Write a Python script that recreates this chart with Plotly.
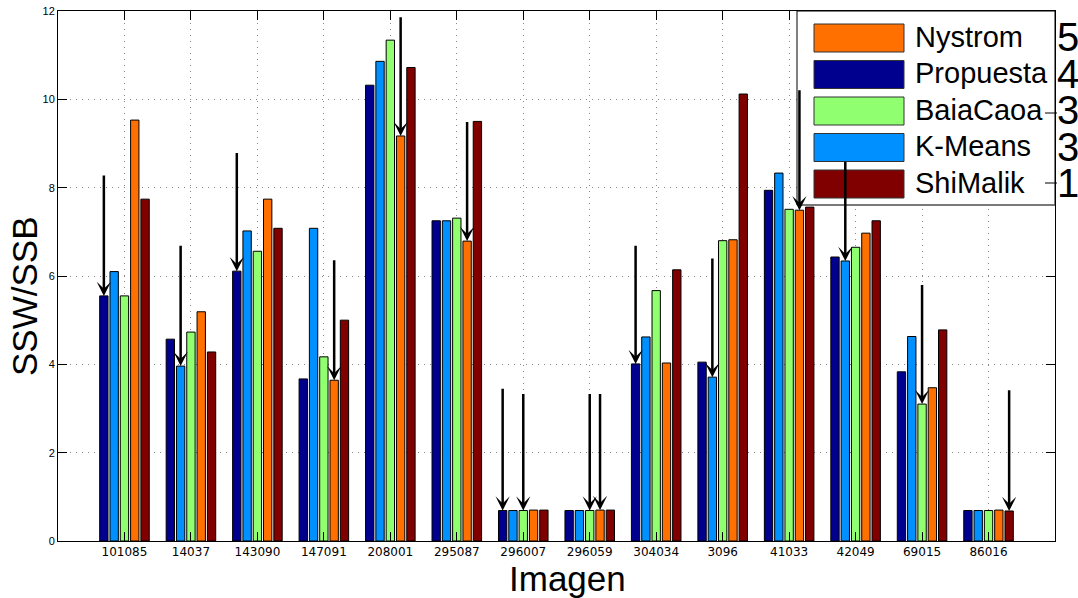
import plotly.graph_objects as go

# ---------------- data ----------------
images = ["101085", "14037", "143090", "147091", "208001", "295087", "296007",
          "296059", "304034", "3096", "41033", "42049", "69015", "86016"]

series_names = ["Propuesta", "K-Means", "BaiaCaoa", "Nystrom", "ShiMalik"]
series_colors = ["#00008F", "#0090FF", "#90FF70", "#FF7000", "#800000"]

propuesta = [5.55, 4.57, 6.11, 3.67, 10.32, 7.25, 0.69, 0.69, 4.01, 4.05, 7.94, 6.43, 3.83, 0.69]
kmeans    = [6.10, 3.96, 7.02, 7.08, 10.86, 7.25, 0.69, 0.69, 4.62, 3.71, 8.33, 6.34, 4.63, 0.69]
baiacaoa  = [5.55, 4.73, 6.56, 4.17, 11.34, 7.31, 0.69, 0.69, 5.67, 6.80, 7.51, 6.65, 3.10, 0.69]
nystrom   = [9.53, 5.19, 7.74, 3.64, 9.17, 6.79, 0.70, 0.70, 4.03, 6.82, 7.49, 6.97, 3.47, 0.70]
shimalik  = [7.74, 4.28, 7.08, 5.00, 10.72, 9.50, 0.70, 0.70, 6.14, 10.12, 7.56, 7.25, 4.78, 0.68]

series_values = [propuesta, kmeans, baiacaoa, nystrom, shimalik]

# arrows marking the best method: (image index, series index, tail height)
arrow_image = [0, 1, 2, 3, 4, 5, 6, 6, 7, 7, 8, 9, 10, 11, 12, 13]
arrow_series = [0, 1, 0, 3, 3, 3, 0, 2, 2, 3, 0, 1, 3, 1, 2, 4]
arrow_tail = [8.31, 6.72, 8.82, 6.39, 11.89, 9.52, 3.48, 3.36, 3.36, 3.36,
              6.72, 6.43, 10.24, 8.62, 5.83, 3.45]

# legend (order as in reference) and win counts
legend_order = ["Nystrom", "Propuesta", "BaiaCaoa", "K-Means", "ShiMalik"]
win_counts = ["5", "4", "3", "3", "1"]

y_ticks = [0, 2, 4, 6, 8, 10, 12]

# ---------------- layout constants ----------------
W, H = 1078, 598
ML, MR, MT, MB = 58, 23, 11, 57
PW = W - ML - MR
PH = H - MT - MB
BARGAP = 0.225
BARGROUPGAP = 0.19
nser = len(series_names)
slot = (1 - BARGAP) / nser


def px2x(px):
    return (px - ML) / PW


def py2y(py):
    return (H - MB - py) / PH


positions = list(range(1, len(images) + 1))

fig = go.Figure()
for name, color, vals in zip(series_names, series_colors, series_values):
    fig.add_trace(go.Bar(
        x=positions, y=vals, name=name,
        marker=dict(color=color, line=dict(color="black", width=1)),
        showlegend=False, hoverinfo="y"))

annotations = []
for gi, si, tail in zip(arrow_image, arrow_series, arrow_tail):
    xpos = positions[gi] + (si - (nser - 1) / 2) * slot
    tip = series_values[si][gi]
    annotations.append(dict(
        x=xpos, y=tip, ax=xpos, ay=tail, xref="x", yref="y", axref="x", ayref="y",
        text="", showarrow=True, arrowhead=3, arrowsize=0.95, arrowwidth=2.5,
        arrowcolor="black", standoff=0))

shapes = []
# legend box
LX0, LX1, LY0, LY1 = 797, 1055, 11, 205
shapes.append(dict(type="rect", xref="paper", yref="paper",
                   x0=px2x(LX0), x1=px2x(LX1), y0=py2y(LY1), y1=py2y(LY0),
                   fillcolor="white", line=dict(color="black", width=1), layer="above"))
shapes.append(dict(type="line", xref="paper", yref="paper",
                   x0=px2x(LX0), x1=px2x(LX1), y0=py2y(LY1), y1=py2y(LY1),
                   line=dict(color="#777777", width=1.5), layer="above"))
color_of = dict(zip(series_names, series_colors))
PATCH_X0, PATCH_X1 = 814, 904
ENTRY_TOP0, ENTRY_STEP, PATCH_H = 24, 36.5, 28
for i, name in enumerate(legend_order):
    top = ENTRY_TOP0 + i * ENTRY_STEP
    shapes.append(dict(type="rect", xref="paper", yref="paper",
                       x0=px2x(PATCH_X0), x1=px2x(PATCH_X1),
                       y0=py2y(top + PATCH_H), y1=py2y(top),
                       fillcolor=color_of[name], line=dict(color="#333333", width=1),
                       layer="above"))
    cy = top + PATCH_H / 2
    annotations.append(dict(x=px2x(913), y=py2y(cy - 1.5), xref="paper", yref="paper",
                            text=name, showarrow=False, xanchor="left", yanchor="middle",
                            font=dict(family="Liberation Sans", size=29, color="black")))
    annotations.append(dict(x=px2x(1055), y=py2y(cy - 1), xref="paper", yref="paper",
                            text=win_counts[i], showarrow=False, xanchor="left",
                            yanchor="middle",
                            font=dict(family="Liberation Sans", size=40, color="black")))

# small dashes at the right of the legend
for dy in (113, 183):
    shapes.append(dict(type="line", xref="paper", yref="paper",
                       x0=px2x(1045), x1=px2x(1057), y0=py2y(dy), y1=py2y(dy),
                       line=dict(color="black", width=1), layer="above"))

# axis titles
annotations.append(dict(x=px2x(24), y=py2y(297), xref="paper", yref="paper",
                        text="SSW/SSB", textangle=-90, showarrow=False,
                        xanchor="center", yanchor="middle",
                        font=dict(family="Liberation Sans", size=35, color="black")))
annotations.append(dict(x=px2x(567), y=py2y(578), xref="paper", yref="paper",
                        text="Imagen", showarrow=False,
                        xanchor="center", yanchor="middle",
                        font=dict(family="Liberation Sans", size=35, color="black")))

GRID_DASH = "1px,5px"
fig.update_layout(
    width=W, height=H,
    margin=dict(l=ML, r=MR, t=MT, b=MB, pad=0),
    paper_bgcolor="white", plot_bgcolor="white",
    barmode="group", bargap=BARGAP, bargroupgap=BARGROUPGAP,
    shapes=shapes, annotations=annotations,
    xaxis=dict(range=[0, len(images) + 1], tickmode="array", tickvals=positions,
               ticktext=images, showline=True, linecolor="black", linewidth=1,
               mirror="allticks", ticks="inside", ticklen=9, tickcolor="black",
               showgrid=True, gridcolor="#888888", griddash=GRID_DASH, gridwidth=1,
               zeroline=False, automargin=False,
               tickfont=dict(family="DejaVu Sans", size=12, color="black")),
    yaxis=dict(range=[0, 12], tickmode="array", tickvals=y_ticks,
               showline=True, linecolor="black", linewidth=1,
               mirror="allticks", ticks="inside", ticklen=9, tickcolor="black",
               showgrid=True, gridcolor="#888888", griddash=GRID_DASH, gridwidth=1,
               zeroline=False, automargin=False,
               tickfont=dict(family="Liberation Sans", size=11, color="black")),
)

fig.write_html("out.html")
